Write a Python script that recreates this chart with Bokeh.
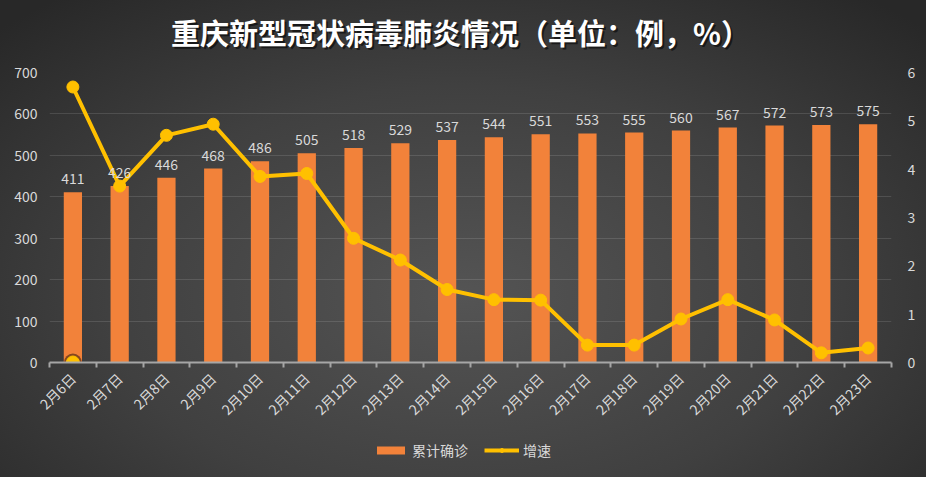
import math
from bokeh.plotting import figure
from bokeh.layouts import column
from bokeh.models import (ColumnDataSource, Range1d, LinearAxis, FixedTicker, LabelSet, Label,
                          Legend, LegendItem, InlineStyleSheet)
from bokeh.embed import file_html
from bokeh.resources import INLINE
from bokeh.core.properties import value

# ---- data ----
title_text = "重庆新型冠状病毒肺炎情况（单位：例，%）"
dates = ["2月6日", "2月7日", "2月8日", "2月9日", "2月10日", "2月11日", "2月12日", "2月13日",
         "2月14日", "2月15日", "2月16日", "2月17日", "2月18日", "2月19日", "2月20日",
         "2月21日", "2月22日", "2月23日"]
confirmed = [411, 426, 446, 468, 486, 505, 518, 529, 537, 544, 551, 553, 555, 560, 567,
             572, 573, 575]
growth = [5.7, 3.65, 4.7, 4.93, 3.85, 3.91, 2.57, 2.12, 1.51, 1.3, 1.29, 0.36, 0.36, 0.9,
          1.3, 0.88, 0.2, 0.3]
origin_marker = [0.0]
left_ticks = [0, 100, 200, 300, 400, 500, 600, 700]
right_ticks = [0, 1, 2, 3, 4, 5, 6]
series_names = ["累计确诊", "增速"]

FONT = "Noto Sans CJK SC"
TXT = "#d9d9d9"
BAR = "#F2823A"
LINE = "#FFC000"

xs = [i + 0.5 for i in range(len(dates))]
src = ColumnDataSource(dict(x=xs, confirmed=confirmed, growth=growth,
                            label=[str(v) for v in confirmed]))
src0 = ColumnDataSource(dict(x=xs[:1], y=origin_marker))


def strip(h):
    f = figure(width=926, height=h, output_backend="svg", toolbar_location=None,
               x_range=Range1d(0, 1), y_range=Range1d(0, 1),
               x_axis_location=None, y_axis_location=None, min_border=0,
               border_fill_color=None, background_fill_color=None, outline_line_color=None)
    f.xgrid.visible = False
    f.ygrid.visible = False
    return f


# ---- title strip ----
tt = strip(62)
tt.add_layout(Label(x=0.5, y=0.5, x_offset=-8, y_offset=-2, text=title_text,
                    text_align="center", text_baseline="middle", text_color="#000000",
                    text_alpha=0.55, text_font=FONT, text_font_size="29px",
                    text_font_style="bold"))
tt.add_layout(Label(x=0.5, y=0.5, x_offset=-10, y_offset=0, text=title_text,
                    text_align="center", text_baseline="middle", text_color="#ffffff",
                    text_font=FONT, text_font_size="29px", text_font_style="bold"))

# ---- main chart ----
p = figure(width=926, height=370, x_range=Range1d(0, len(dates)), y_range=Range1d(0, 700),
           output_backend="svg", toolbar_location=None,
           min_border_left=49, min_border_right=35, min_border_top=10, min_border_bottom=70,
           border_fill_color=None, background_fill_color=None, outline_line_color=None)
p.extra_y_ranges = {"pct": Range1d(0, 6)}

ly = p.yaxis[0]
ly.ticker = FixedTicker(ticks=left_ticks)
ly.axis_line_color = None
ly.major_tick_line_color = None
ly.minor_tick_line_color = None
ly.major_label_text_color = TXT
ly.major_label_text_font = FONT
ly.major_label_text_font_size = "14px"
ly.major_label_standoff = 6

ry = LinearAxis(y_range_name="pct", ticker=FixedTicker(ticks=right_ticks))
ry.axis_line_color = None
ry.major_tick_line_color = None
ry.minor_tick_line_color = None
ry.major_label_text_color = TXT
ry.major_label_text_font = FONT
ry.major_label_text_font_size = "14px"
ry.major_label_standoff = 10
p.add_layout(ry, "right")

p.xgrid.visible = False
p.ygrid.ticker = FixedTicker(ticks=left_ticks[1:])
p.ygrid.grid_line_color = "#ffffff"
p.ygrid.grid_line_alpha = 0.12

bx = p.xaxis[0]
bx.ticker = FixedTicker(ticks=list(range(len(dates) + 1)))
bx.major_label_overrides = {i: "" for i in range(len(dates) + 1)}
bx.major_label_text_font_size = "2px"
bx.major_label_standoff = 0
bx.major_tick_out = 5
bx.major_tick_in = 0
bx.minor_tick_line_color = None
bx.axis_line_color = "#a6a6a6"
bx.axis_line_width = 2
bx.major_tick_line_color = "#a6a6a6"
bx.major_tick_line_width = 2

lx = LinearAxis(ticker=FixedTicker(ticks=xs),
                major_label_overrides={x: d for x, d in zip(xs, dates)})
lx.axis_line_color = None
lx.major_tick_line_color = None
lx.minor_tick_line_color = None
lx.major_label_orientation = math.pi / 4
lx.major_label_text_color = TXT
lx.major_label_text_font = FONT
lx.major_label_text_font_size = "14px"
lx.major_label_standoff = 2
p.add_layout(lx, "below")

p.vbar(x="x", top="confirmed", width=0.39, source=src, fill_color=BAR, line_color=None)
p.line(x="x", y="growth", source=src, y_range_name="pct", line_width=4, line_color=LINE)
p.scatter(x="x", y="growth", source=src, y_range_name="pct", size=12,
          fill_color=LINE, line_color=LINE)
p.scatter(x="x", y="y", source=src0, y_range_name="pct", size=18,
          fill_color="#000000", fill_alpha=0.45, line_color=None)
p.scatter(x="x", y="y", source=src0, y_range_name="pct", size=13,
          fill_color=LINE, line_color=LINE)

p.add_layout(LabelSet(x="x", y="confirmed", text="label", source=src, y_offset=8,
                      text_align="center", text_baseline="bottom", text_color=TXT,
                      text_font=value(FONT), text_font_size="14px"))

# ---- legend strip (proxy renderers lie outside its range) ----
lg = strip(45)
lg.x_range = Range1d(1, 2)
lg.y_range = Range1d(1, 2)
r_bar = lg.vbar(x=[0], top=[0], width=0.39, fill_color=BAR, line_color=None)
r_line = lg.line(x=[0, 0], y=[0, 0], line_width=4, line_color=LINE)
r_pts = lg.scatter(x=[0], y=[0], size=12, fill_color=LINE, line_color=LINE)
lg.add_layout(Legend(items=[LegendItem(label=series_names[0], renderers=[r_bar]),
                            LegendItem(label=series_names[1], renderers=[r_line, r_pts])],
                     orientation="horizontal", location=(324, 17),
                     background_fill_alpha=0, border_line_color=None,
                     label_text_color=TXT, label_text_font=FONT, label_text_font_size="14px",
                     glyph_width=35, glyph_height=10, label_height=20, label_standoff=4,
                     spacing=16, margin=0, padding=0))

layout = column(tt, p, lg, spacing=0)
layout.stylesheets = [InlineStyleSheet(css=":host { background: radial-gradient(ellipse 70% 80% at 50% 62%, #545454 0%, #404040 55%, #282828 100%); }")]

open("out.html", "w").write(file_html(layout, INLINE))
